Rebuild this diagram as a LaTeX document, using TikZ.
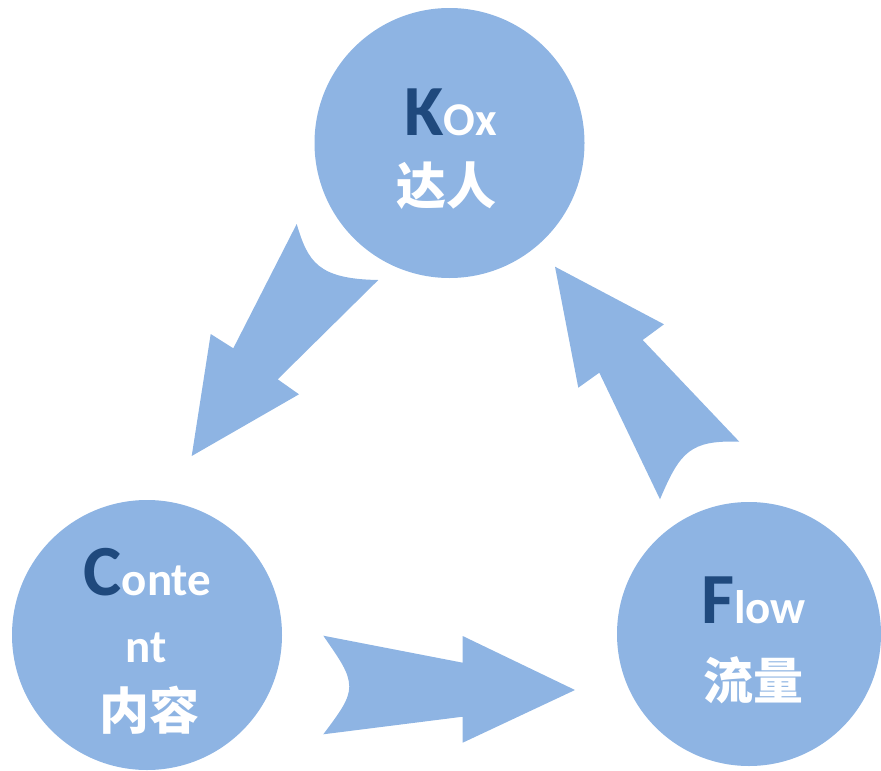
\documentclass[tikz,border=0pt]{standalone}
\usepackage{fontspec}
\setmainfont{Carlito}
\newfontfamily\cjk{Noto Sans CJK SC}
\definecolor{cfill}{HTML}{8EB4E3}
\definecolor{dkblue}{HTML}{1F497D}
\newcommand{\biglet}[1]{{\color{dkblue}\fontsize{72}{72}\selectfont\bfseries #1}}
\newcommand{\smallw}[1]{{\fontsize{47}{47}\selectfont\bfseries #1}}
\newcommand{\cjkw}[1]{{\cjk\fontsize{50}{50}\selectfont\bfseries #1}}
\begin{document}
\begin{tikzpicture}[x=1pt,y=-1pt,
  circ/.style={circle,fill=cfill,draw=none,inner sep=0pt},
  lbl/.style={anchor=base,text=white,inner sep=0pt},
  blockarrow/.style={fill=cfill,draw=none}]
\useasboundingbox (0,0) rectangle (881,771);
% circles
\node[circ,minimum size=270pt] (kox) at (449.5,143) {};
\node[circ,minimum size=270pt] (con) at (147,635) {};
\node[circ,minimum size=264pt] (flw) at (749,634) {};
% arrow KOx -> Content
\fill[blockarrow] (296.7,224) .. controls (308,262) and (318,279) .. (378.3,280)
  -- (277.7,379.3) -- (299,394.3) -- (191.7,456) -- (210.7,334) -- (233.3,348.3) -- cycle;
% arrow Flow -> KOx
\fill[blockarrow] (555,266.7) -- (664,324.3) -- (642.7,340) -- (739.3,441.7)
  .. controls (690,440) and (680,452) .. (660,499.3)
  -- (599.3,372.7) -- (578.3,387.7) -- cycle;
% arrow Content -> Flow
\fill[blockarrow] (323.3,635.7) -- (462.7,662.7) -- (462.7,636) -- (575,690)
  -- (462.7,742.7) -- (462.7,716.7) -- (323.3,734.3)
  .. controls (340,712) and (349,700) .. (349.3,686.7)
  .. controls (349,672) and (340,660) .. cycle;
% labels
\node[lbl] (t1) at (450.5,135) {\biglet{K}\smallw{Ox}};
\node[lbl] (t2) at (446,204) {\cjkw{达人}};
\node[lbl] (c1) at (147.5,595) {\biglet{C}\smallw{onte}};
\node[lbl] (c2) at (146.5,662) {\smallw{nt}};
\node[lbl] (c3) at (149,729) {\cjkw{内容}};
\node[lbl] (f1) at (753.5,623) {\biglet{F}\smallw{low}};
\node[lbl] (f2) at (753.5,699) {\cjkw{流量}};
\end{tikzpicture}
\end{document}
